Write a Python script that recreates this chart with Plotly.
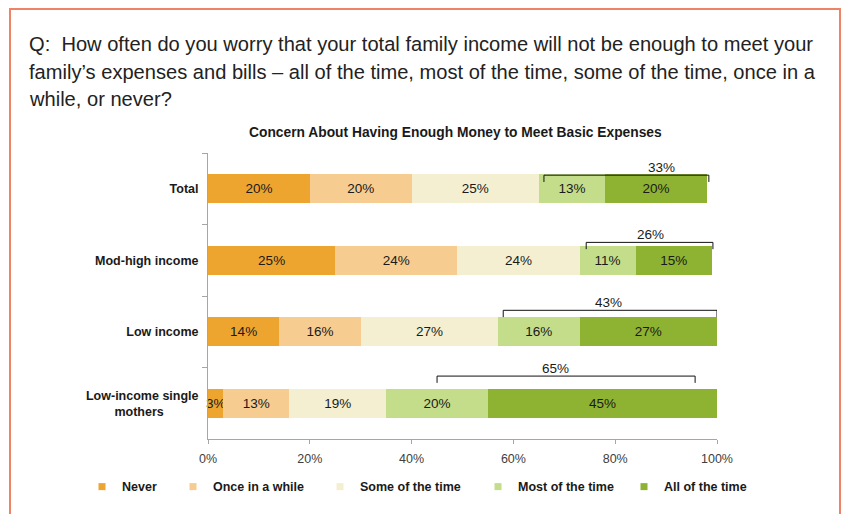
import plotly.graph_objects as go

# ---- data -------------------------------------------------------------
categories = ["Total", "Mod-high income", "Low income", "Low-income single mothers"]
series_names = ["Never", "Once in a while", "Some of the time",
                "Most of the time", "All of the time"]
never = [20, 25, 14, 3]
once_in_a_while = [20, 24, 16, 13]
some_of_the_time = [25, 24, 27, 19]
most_of_the_time = [13, 11, 16, 20]
all_of_the_time = [20, 15, 27, 45]
x_tick_values = [0, 20, 40, 60, 80, 100]

# worry brackets ("most" + "all of the time") drawn over each bar
bracket_start = [66, 74.3, 58, 45]
bracket_end = [98.4, 99.2, 100, 95.7]
bracket_label_x = [89, 87, 78.6, 68.2]
bracket_rise = [0.19, 0.25, 0.30, 0.38]   # in category units above bar centre

question_lines = [
    "Q:  How often do you worry that your total family income will not be enough to meet your",
    "family\u2019s expenses and bills \u2013 all of the time, most of the time, some of the time, once in a",
    "while, or never?",
]

# ---- style ------------------------------------------------------------
colors = ["#EEA530", "#F6CC90", "#F4EFD0", "#C3DD8B", "#8EB231"]
FONT = "Liberation Sans, Arial, sans-serif"
W, H = 845, 514
PL, PR, PT, PB = 208, 717, 153, 445  # plot area in pixels


def px_x(px):
    return (px - PL) / (PR - PL)


def px_y(py):
    return (PB - py) / (PB - PT)


nbsp = "\u00a0"
axis_labels = {
    "Total": "Total",
    "Mod-high income": "Mod-high income",
    "Low income": "Low income",
    "Low-income single mothers": "Low-income single<br>mothers" + nbsp * 10,
}
y_labels = [axis_labels[c] for c in categories]

series_values = [never, once_in_a_while, some_of_the_time,
                 most_of_the_time, all_of_the_time]

fig = go.Figure()
for name, vals, col in zip(series_names, series_values, colors):
    fig.add_trace(go.Bar(
        x=vals, y=y_labels, orientation="h", name=name,
        marker=dict(color=col, line=dict(width=0)),
        text=[f"{v}%" for v in vals], texttemplate="%{text}", textposition="inside",
        insidetextanchor="middle", textangle=0,
        textfont=dict(family=FONT, size=13.5, color="#1a1a1a"),
        cliponaxis=False, showlegend=False, legendgroup=name,
        hoverinfo="x+name",
    ))

# legend entries with small square swatches, each in its own legend box
legend_text_px = [121, 212, 359, 517, 663]
layout_legends = {}
for i, (name, col) in enumerate(zip(series_names, colors)):
    key = "legend" if i == 0 else f"legend{i + 1}"
    fig.add_trace(go.Scatter(
        x=[None], y=[None], mode="markers", name=name,
        marker=dict(symbol="square", size=7, color=col),
        legend=key, legendgroup=name, showlegend=True,
    ))
    layout_legends[key] = dict(
        x=px_x(legend_text_px[i] - 39), xanchor="left",
        y=px_y(494), yanchor="middle",
        orientation="h", bgcolor="rgba(0,0,0,0)", borderwidth=0,
        font=dict(family=FONT, size=12.5, color="#1a1a1a", weight="bold"),
        itemwidth=30, tracegroupgap=0,
    )

# brackets and their totals
shapes = []
annotations = []
for i in range(len(categories)):
    yl = i - bracket_rise[i]
    tick = 0.095
    x0, x1 = bracket_start[i], bracket_end[i]
    line = dict(color="#111111", width=1)
    shapes.append(dict(type="line", xref="x", yref="y", x0=x0, x1=x1, y0=yl, y1=yl, line=line))
    shapes.append(dict(type="line", xref="x", yref="y", x0=x0, x1=x0, y0=yl, y1=yl + tick, line=line))
    shapes.append(dict(type="line", xref="x", yref="y", x0=x1, x1=x1, y0=yl, y1=yl + tick, line=line))
    total = most_of_the_time[i] + all_of_the_time[i]
    annotations.append(dict(
        x=bracket_label_x[i], y=yl - 0.11, xref="x", yref="y",
        text=f"{total}%", showarrow=False, yanchor="middle",
        font=dict(family=FONT, size=13.5, color="#1a1a1a"),
    ))

# outer frame
shapes.append(dict(
    type="rect", xref="paper", yref="paper",
    x0=px_x(10), x1=px_x(840), y0=px_y(6), y1=px_y(530),
    line=dict(color="#EE8466", width=2), fillcolor="rgba(0,0,0,0)", layer="below",
))

# question text, one annotation per line
for k, txt in enumerate(question_lines):
    annotations.append(dict(
        xref="paper", yref="paper", x=px_x(27), y=px_y(42 + 28 * k),
        xanchor="left", yanchor="middle", align="left", showarrow=False,
        text=txt, font=dict(family=FONT, size=20.1, color="#222222"),
    ))

# chart title
annotations.append(dict(
    xref="paper", yref="paper", x=px_x(455), y=px_y(132),
    xanchor="center", yanchor="middle", showarrow=False,
    text="<b>Concern About Having Enough Money to Meet Basic Expenses</b>",
    font=dict(family=FONT, size=13.8, color="#1a1a1a"),
))

fig.update_layout(
    width=W, height=H,
    margin=dict(l=PL, r=W - PR, t=PT, b=H - PB, pad=0),
    barmode="stack", bargap=0.6,
    plot_bgcolor="white", paper_bgcolor="white",
    uniformtext=dict(minsize=13, mode="show"),
    shapes=shapes, annotations=annotations,
    showlegend=True,
    **layout_legends,
)

fig.update_xaxes(
    range=[0, 100], tickvals=x_tick_values,
    ticktext=[f"{v}%" for v in x_tick_values],
    showgrid=False, zeroline=False,
    showline=True, linecolor="#A6A6A6", linewidth=1,
    ticks="outside", ticklen=4, tickcolor="#A6A6A6", ticklabelstandoff=4,
    tickfont=dict(family=FONT, size=12.5, color="#404040"),
)
fig.update_yaxes(
    type="category", categoryorder="array", categoryarray=y_labels,
    range=[3.5, -0.5], tickson="boundaries",
    showgrid=False, zeroline=False,
    showline=True, linecolor="#A6A6A6", linewidth=1,
    ticks="outside", ticklen=5, tickcolor="#A6A6A6", ticklabelstandoff=6,
    tickfont=dict(family=FONT, size=12.5, color="#1a1a1a", weight="bold"),
)

fig.write_html("out.html")
